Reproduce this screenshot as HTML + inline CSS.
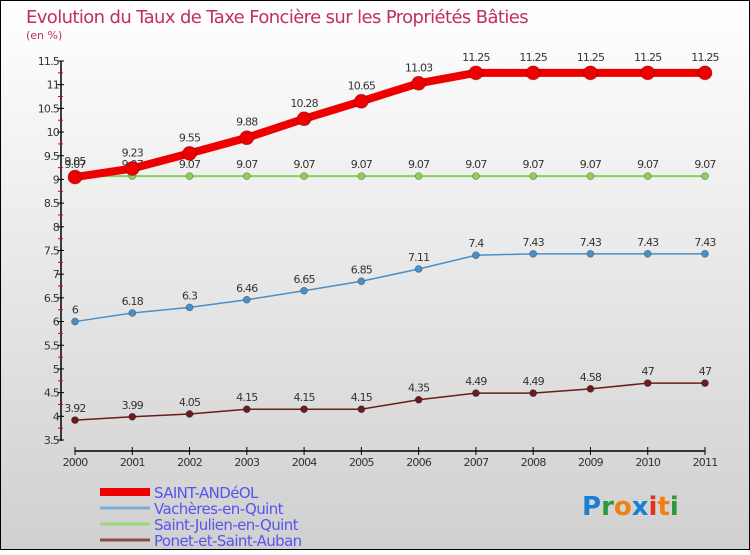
<!DOCTYPE html>
<html><head><meta charset="utf-8"><style>
body{margin:0;}
svg text{font-family:"DejaVu Sans","Liberation Sans",sans-serif;}
</style></head><body>
<svg id="c" width="750" height="550" viewBox="0 0 750 550" xmlns="http://www.w3.org/2000/svg">
<defs><linearGradient id="bg" x1="0" y1="0" x2="0" y2="1"><stop offset="0" stop-color="#ffffff"/><stop offset="1" stop-color="#d0d0d0"/></linearGradient></defs>
<rect x="0.5" y="0.5" width="749" height="549" fill="url(#bg)" stroke="#000"/>
<text x="26" y="23" font-size="18" fill="#c0305a" letter-spacing="-0.6" textLength="502" lengthAdjust="spacingAndGlyphs">Evolution du Taux de Taxe Foncière sur les Propriétés Bâties</text>
<text x="26" y="39" font-size="11" fill="#c0305a">(en %)</text>
<g id="axes"></g>
<g id="series"></g>
<g id="legend"></g>
<g font-size="26" font-weight="bold">
<text x="582" y="515"><tspan fill="#1a7fd0">P</tspan><tspan fill="#2a9a3a">r</tspan><tspan fill="#f08010">o</tspan><tspan fill="#1a7fd0">x</tspan><tspan fill="#e03020">i</tspan><tspan fill="#f08010">t</tspan><tspan fill="#2a9a3a">i</tspan></text>
</g>
</svg>
<script>
const years=[2000,2001,2002,2003,2004,2005,2006,2007,2008,2009,2010,2011];
const yTicks=[3.5,4,4.5,5,5.5,6,6.5,7,7.5,8,8.5,9,9.5,10,10.5,11,11.5];
const saintAndeol=[9.05,9.23,9.55,9.88,10.28,10.65,11.03,11.25,11.25,11.25,11.25,11.25];
const vacheres=[6,6.18,6.3,6.46,6.65,6.85,7.11,7.4,7.43,7.43,7.43,7.43];
const saintJulien=[9.07,9.07,9.07,9.07,9.07,9.07,9.07,9.07,9.07,9.07,9.07,9.07];
const ponet=[3.92,3.99,4.05,4.15,4.15,4.15,4.35,4.49,4.49,4.58,4.7,4.7];
const seriesNames=["SAINT-ANDéOL","Vachères-en-Quint","Saint-Julien-en-Quint","Ponet-et-Saint-Auban"];

const NS="http://www.w3.org/2000/svg";
const X=y=>75+(y-2000)*(630/11);
const Y=v=>61+(11.5-v)*(379/8);
function mk(tag,attrs,parent){const e=document.createElementNS(NS,tag);for(const k in attrs)e.setAttribute(k,attrs[k]);parent.appendChild(e);return e;}
const fmt=v=>String(v).replace(/^(\d)\.7$/,'$17');

const axes=document.getElementById('axes');
let e=mk('line',{x1:61,y1:61,x2:61,y2:441,stroke:'#000','stroke-width':1.5},axes);


e=mk('line',{x1:75,y1:451,x2:705,y2:451,stroke:'#000','stroke-width':1.5},axes);


yTicks.forEach(v=>{
  const y=Y(v);
  mk('line',{x1:57,y1:y,x2:64,y2:y,stroke:'#000'},axes);
  if(v<11.5){mk('line',{x1:58,y1:Y(v+0.25),x2:63,y2:Y(v+0.25),stroke:'#e00000'},axes);}
  const t=mk('text',{x:59,y:y+4,'text-anchor':'end','font-size':11,fill:'#333','letter-spacing':'-0.8'},axes);
  t.textContent=String(v);
  
  
});
years.forEach(yr=>{
  const x=X(yr);
  mk('line',{x1:x,y1:447,x2:x,y2:455,stroke:'#000'},axes);
  const t=mk('text',{x:x,y:466,'text-anchor':'middle','font-size':11,fill:'#333','letter-spacing':'-0.8'},axes);
  t.textContent=String(yr);
  
  
});

const sg=document.getElementById('series');
function drawSeries(vals,color,w,r,name,labelDy){
  const g=mk('g',{},sg);
  
  
  mk('polyline',{points:vals.map((v,i)=>X(years[i])+','+Y(v)).join(' '),fill:'none',stroke:color,'stroke-width':w,'stroke-linejoin':'round'},g);
  vals.forEach((v,i)=>{
    const c=mk('circle',{cx:X(years[i]),cy:Y(v),r:r,fill:color,stroke:'rgba(0,0,0,0.3)','stroke-width':0.8},g);
    
    
    const t=mk('text',{x:X(years[i]),y:Y(v)-labelDy,'text-anchor':'middle','font-size':11,fill:'#333','letter-spacing':'-0.8'},g);
    t.textContent=fmt(v);
    
    
  });
}
drawSeries(ponet,'#6b1c1c',1.5,3.5,'series-ponet',8);
drawSeries(vacheres,'#4a90c8',1.5,3.5,'series-vacheres',8);
drawSeries(saintJulien,'#8ccf5a',2,3.5,'series-saint-julien',8);
drawSeries(saintAndeol,'#ee0000',8,7,'series-saint-andeol',12);

const lg=document.getElementById('legend');
const lc=['#ee0000','#7aaed6','#9ed67a','#8a4a4a'];
const lw=[8,3,3,3];
seriesNames.forEach((n,i)=>{
  const y=492+i*16;
  const g=mk('g',{},lg);
  
  
  mk('line',{x1:100,y1:y,x2:150,y2:y,stroke:lc[i],'stroke-width':lw[i]},g);
  const t=mk('text',{x:154,y:y+6,'font-size':15,fill:'#5555ee','letter-spacing':'-0.6'},g);
  t.textContent=n;
});
</script>
</body></html>
